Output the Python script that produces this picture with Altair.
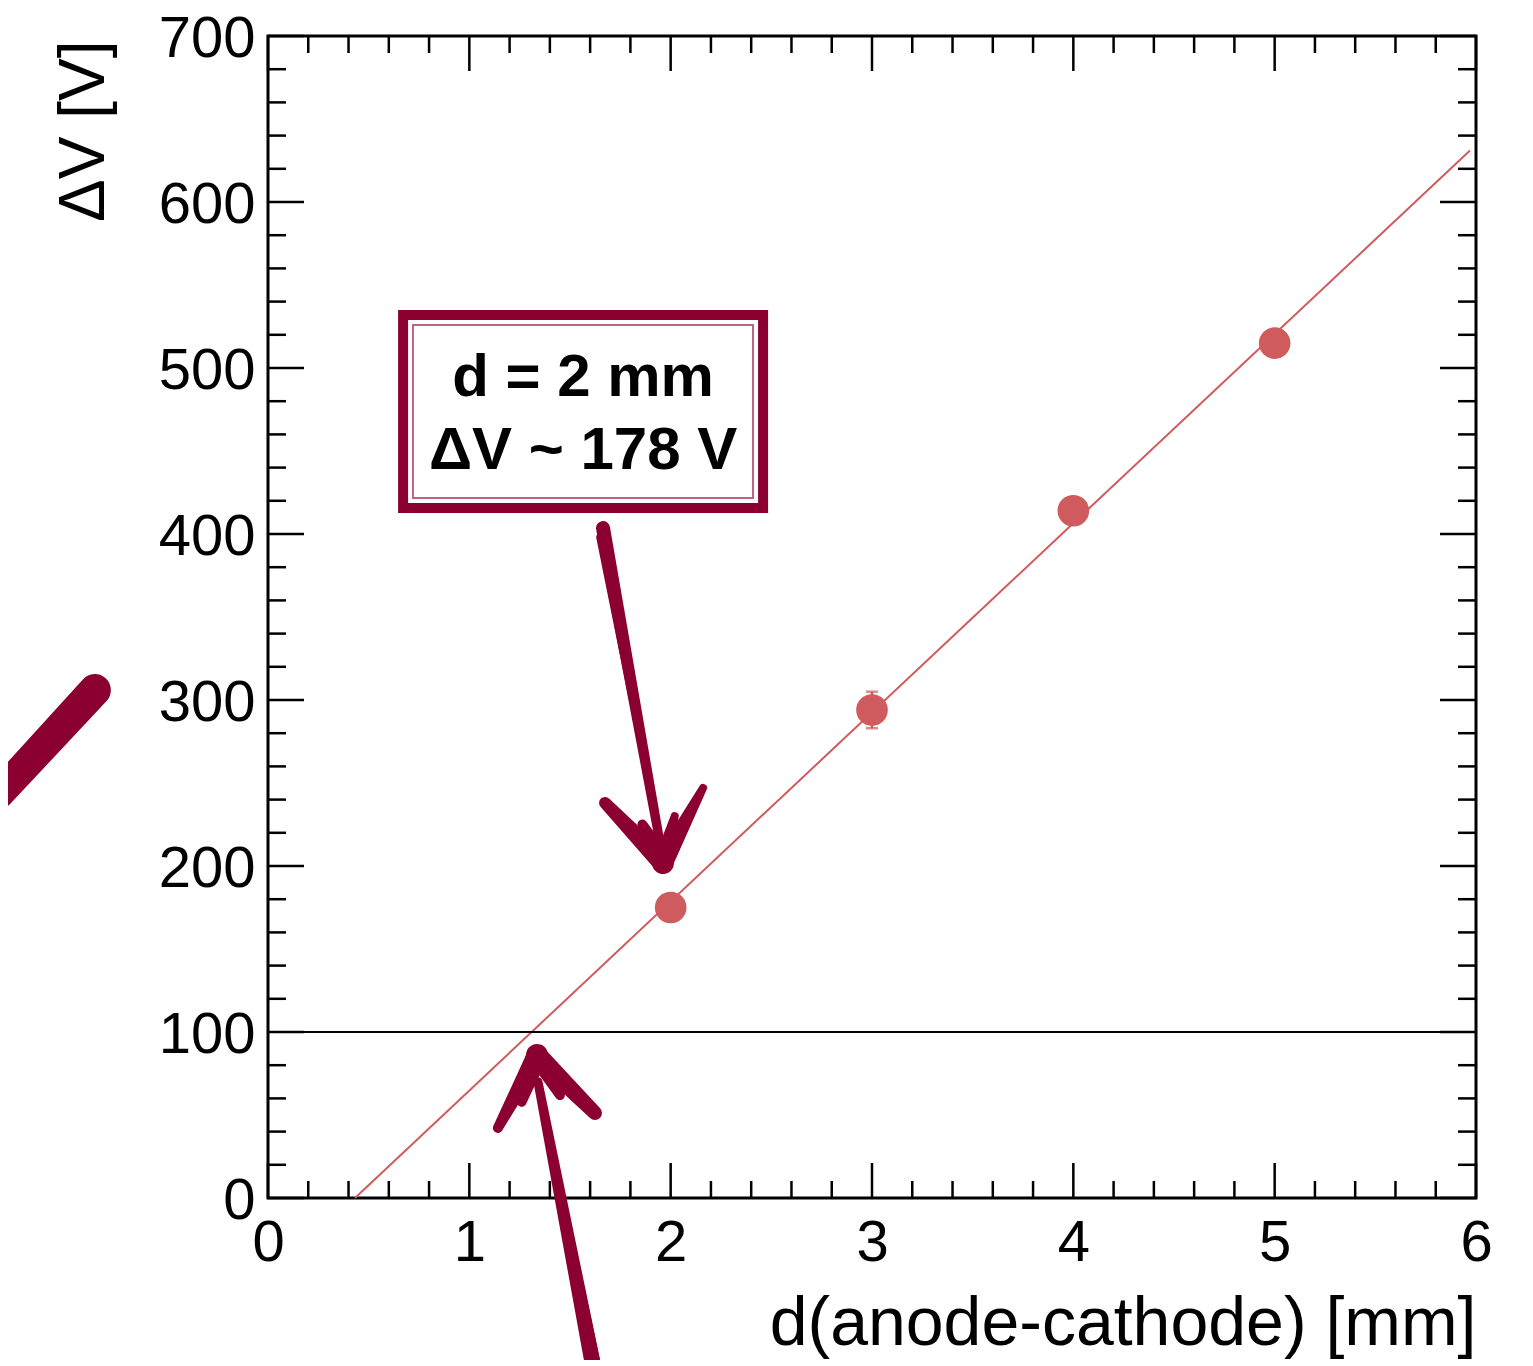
import altair as alt
import pandas as pd
import numpy as np

# ---------------- data ----------------
d_mm = [2, 3, 4, 5]
dV = [175, 294, 414, 515]
dV_err = [5, 11, 8, 5]

fit_d = [0.432, 5.97]
fit_V = [0.0, 631.0]

ref_V = [100]

x_major = [0, 1, 2, 3, 4, 5, 6]
y_major = [0, 100, 200, 300, 400, 500, 600, 700]
x_minor = [round(v, 1) for v in np.arange(0, 6.0001, 0.2) if abs(v - round(v)) > 1e-6]
y_minor = [v for v in range(0, 701, 20) if v % 100 != 0]

box_lines = ["d = 2 mm", "ΔV ~ 178 V"]
box_text_x = [1.565, 1.565]
box_text_y = [494, 450]
box_outer = dict(x=0.671, x2=2.459, y=415.7, y2=531.9)
box_inner = dict(x=0.720, x2=2.409, y=421.7, y2=525.9)

# hand-drawn arrows (data coordinates), stroke widths in px
stroke_group = ["a1_shaft", "a1_shaft", "a1_shaft2", "a1_shaft2",
                "a1_left", "a1_left", "a1_right", "a1_right", "a1_mid", "a1_mid", "a1_mid2", "a1_mid2",
                "a2_shaft", "a2_shaft", "a2_shaft2", "a2_shaft2",
                "a2_left", "a2_left", "a2_right", "a2_right", "a2_mid", "a2_mid", "a2_mid2", "a2_mid2",
                "frag", "frag"]
stroke_x = [1.664, 1.950, 1.650, 1.930,
            1.674, 1.962, 2.161, 1.962, 1.860, 1.962, 2.020, 1.962,
            1.614, 1.341, 1.630, 1.360,
            1.142, 1.336, 1.624, 1.336, 1.260, 1.336, 1.450, 1.336,
            -1.331, -0.860]
stroke_y = [403.6, 212.0, 398.0, 225.0,
            238.0, 201.8, 247.0, 201.8, 225.0, 201.8, 230.0, 201.8,
            -100.6, 70.0, -100.0, 60.0,
            42.2, 86.1, 51.2, 86.1, 58.0, 86.1, 62.0, 86.1,
            244.0, 306.0]
stroke_w = [14, 9, 8, 5,
            12, 20, 8, 20, 10, 22, 8, 20,
            16, 9, 9, 5,
            10, 20, 14, 20, 10, 22, 10, 20,
            30, 32]
stroke_order = [0, 1] * 13

# ---------------- styling ----------------
PT = "#d05b5e"
ANN = "#8c0031"
FONT = "Liberation Sans"
W, H = 1208, 1162
XD, YD = [0, 6], [0, 700]
xs = alt.Scale(domain=XD, nice=False, zero=False)
ys = alt.Scale(domain=YD, nice=False, zero=False)

x_tick_major_len = 35 / H * 700
x_tick_minor_len = 17 / H * 700
y_tick_major_len = 36 / W * 6
y_tick_minor_len = 18 / W * 6

pts = pd.DataFrame({"d": d_mm, "V": dV, "err": dV_err})
pts["lo"] = pts["V"] - pts["err"]
pts["hi"] = pts["V"] + pts["err"]

x_axis = alt.Axis(title="d(anode-cathode) [mm]", values=x_major, format="d", ticks=False, tickSize=0,
                  domain=False, grid=False, labelFontSize=58, labelFont=FONT, labelColor="black",
                  labelPadding=62, labelBaseline="alphabetic", labelFlush=False, labelOverlap=False,
                  titleFontSize=68, titleFont=FONT, titleFontWeight="normal", titleColor="black",
                  titleAlign="right", titleX=W, titleY=146, titleBaseline="alphabetic")
y_axis = alt.Axis(title="ΔV [V]", values=y_major, format="d", ticks=False, tickSize=0,
                  domain=False, grid=False, labelFontSize=58, labelFont=FONT, labelColor="black",
                  labelPadding=13, labelBaseline="middle", labelOffset=3, labelFlush=False,
                  labelOverlap=False,
                  titleFontSize=64, titleFont=FONT, titleFontWeight="normal", titleColor="black",
                  titleAngle=270, titleAlign="right", titleX=-165, titleY=4, titleBaseline="alphabetic")


def X(f):
    return alt.X(f, scale=xs, axis=x_axis)


def Y(f):
    return alt.Y(f, scale=ys, axis=y_axis)


# fit line
fit = alt.Chart(pd.DataFrame({"d": fit_d, "V": fit_V})).mark_line(color=PT, strokeWidth=2).encode(
    x=X("d:Q"), y=Y("V:Q"))

ref = alt.Chart(pd.DataFrame({"V": ref_V})).mark_rule(color="black", strokeWidth=2).encode(
    y=Y("V:Q"))

errbar = alt.Chart(pts).mark_rule(color=PT, strokeWidth=2.5).encode(
    x=X("d:Q"), y=Y("lo:Q"), y2="hi:Q")
caps = alt.Chart(pts).transform_fold(["lo", "hi"], as_=["k", "cv"]).mark_tick(
    color=PT, thickness=2.5, size=12, orient="horizontal").encode(
    x=X("d:Q"), y=Y("cv:Q"))
points = alt.Chart(pts).mark_circle(color=PT, size=1000, opacity=1).encode(
    x=X("d:Q"), y=Y("V:Q"))

# inward ticks (ROOT style)
tick_rows = []
for v in x_major:
    tick_rows.append(dict(x=v, x2=v, y=0, y2=x_tick_major_len))
    tick_rows.append(dict(x=v, x2=v, y=700, y2=700 - x_tick_major_len))
for v in x_minor:
    tick_rows.append(dict(x=v, x2=v, y=0, y2=x_tick_minor_len))
    tick_rows.append(dict(x=v, x2=v, y=700, y2=700 - x_tick_minor_len))
for v in y_major:
    tick_rows.append(dict(x=0, x2=y_tick_major_len, y=v, y2=v))
    tick_rows.append(dict(x=6, x2=6 - y_tick_major_len, y=v, y2=v))
for v in y_minor:
    tick_rows.append(dict(x=0, x2=y_tick_minor_len, y=v, y2=v))
    tick_rows.append(dict(x=6, x2=6 - y_tick_minor_len, y=v, y2=v))
ticks = alt.Chart(pd.DataFrame(tick_rows)).mark_rule(color="black", strokeWidth=2.5).encode(
    x=X("x:Q"), x2="x2:Q", y=Y("y:Q"), y2="y2:Q")

# annotation box
box_o = alt.Chart(pd.DataFrame([box_outer])).mark_rect(fill="white", stroke=ANN, strokeWidth=10).encode(
    x=X("x:Q"), x2="x2:Q", y=Y("y:Q"), y2="y2:Q")
box_i = alt.Chart(pd.DataFrame([box_inner])).mark_rect(fillOpacity=0, stroke=ANN, strokeWidth=2,
                                                        strokeOpacity=0.6).encode(
    x=X("x:Q"), x2="x2:Q", y=Y("y:Q"), y2="y2:Q")
box_txt = alt.Chart(pd.DataFrame({"t": box_lines, "x": box_text_x, "y": box_text_y})).mark_text(
    font=FONT, fontSize=60, fontWeight="bold", color="black", align="center", baseline="middle").encode(
    x=X("x:Q"), y=Y("y:Q"), text="t:N")

strokes = alt.Chart(pd.DataFrame({"g": stroke_group, "x": stroke_x, "y": stroke_y,
                                  "w": stroke_w, "o": stroke_order})).mark_trail(color=ANN).encode(
    x=X("x:Q"), y=Y("y:Q"),
    size=alt.Size("w:Q", scale=None, legend=None),
    detail="g:N",
    order="o:Q",
)

chart = alt.layer(fit, ref, box_o, box_i, box_txt, strokes, errbar, caps, points, ticks).properties(
    width=W, height=H,
    autosize=alt.AutoSizeParams(type="none"),
    padding={"left": 260, "top": 28, "right": 49, "bottom": 162},
).configure_view(stroke="black", strokeWidth=3)

chart.save("out.html", embed_options={"renderer": "svg", "actions": False})
